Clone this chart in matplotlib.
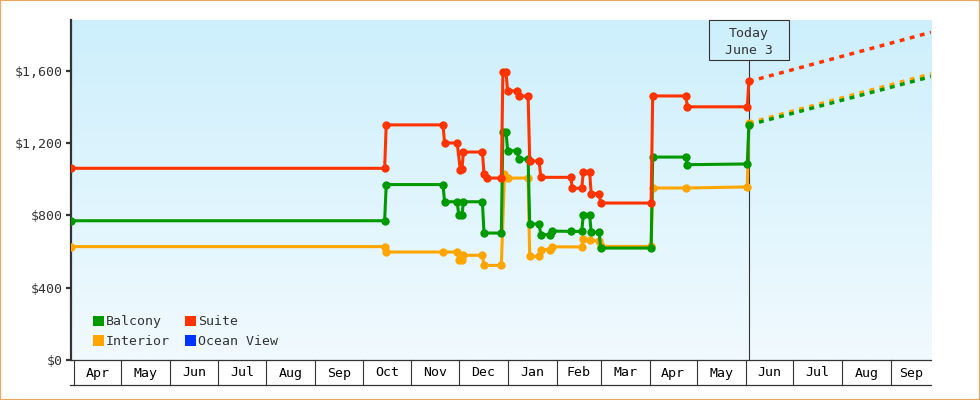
import matplotlib
matplotlib.use("Agg")
import matplotlib.pyplot as plt
import matplotlib.dates as mdates
import numpy as np
import pandas as pd
from matplotlib.patches import Rectangle, Patch
from matplotlib.lines import Line2D
from matplotlib.colors import LinearSegmentedColormap

plt.rcParams['font.family'] = ['DejaVu Sans Mono', 'DejaVu Sans']

# ---------------- data ----------------
legend_names = ["Balcony", "Interior", "Suite", "Ocean View"]
legend_colors = ["#009900", "#ffa500", "#ff3300", "#0033ff"]

balcony_dates = ["2022-03-30", "2022-10-15", "2022-10-16", "2022-11-21", "2022-11-22",
                 "2022-11-30", "2022-12-01", "2022-12-03", "2022-12-04", "2022-12-16",
                 "2022-12-17", "2022-12-28", "2022-12-29", "2022-12-31", "2023-01-01",
                 "2023-01-07", "2023-01-08", "2023-01-14", "2023-01-15", "2023-01-21",
                 "2023-01-22", "2023-01-28", "2023-01-29", "2023-02-10", "2023-02-17",
                 "2023-02-18", "2023-02-22", "2023-02-23", "2023-02-28", "2023-03-01",
                 "2023-04-02", "2023-04-03", "2023-04-24", "2023-04-25", "2023-06-02",
                 "2023-06-03"]
balcony_prices = [770, 770, 970, 970, 875,
                  875, 800, 800, 875, 875,
                  702, 702, 1260, 1260, 1157,
                  1157, 1111, 1111, 752, 752,
                  693, 693, 713, 711, 711,
                  804, 804, 706, 706, 619,
                  619, 1122, 1122, 1080, 1084,
                  1300]

interior_dates = ["2022-03-30", "2022-10-15", "2022-10-16", "2022-11-21", "2022-11-30",
                  "2022-12-01", "2022-12-03", "2022-12-04", "2022-12-16", "2022-12-17",
                  "2022-12-28", "2022-12-30", "2023-01-01", "2023-01-14", "2023-01-15",
                  "2023-01-21", "2023-01-22", "2023-01-28", "2023-01-29", "2023-02-17",
                  "2023-02-18", "2023-02-22", "2023-02-28", "2023-03-01", "2023-04-02",
                  "2023-04-03", "2023-04-24", "2023-06-02", "2023-06-03"]
interior_prices = [627, 627, 597, 597, 597,
                   555, 555, 579, 579, 523,
                   523, 1030, 1006, 1006, 573,
                   573, 610, 610, 626, 625,
                   669, 665, 656, 628, 628,
                   951, 951, 957, 1311]

suite_dates = ["2022-03-30", "2022-10-15", "2022-10-16", "2022-11-21", "2022-11-22",
               "2022-11-30", "2022-12-02", "2022-12-03", "2022-12-04", "2022-12-16",
               "2022-12-17", "2022-12-19", "2022-12-28", "2022-12-29", "2022-12-31",
               "2023-01-01", "2023-01-07", "2023-01-08", "2023-01-14", "2023-01-15",
               "2023-01-21", "2023-01-22", "2023-02-10", "2023-02-11", "2023-02-17",
               "2023-02-18", "2023-02-22", "2023-02-23", "2023-02-28", "2023-03-01",
               "2023-04-02", "2023-04-03", "2023-04-24", "2023-04-25", "2023-06-02",
               "2023-06-03"]
suite_prices = [1060, 1060, 1300, 1300, 1200,
                1200, 1050, 1055, 1150, 1150,
                1030, 1006, 1006, 1590, 1590,
                1485, 1490, 1460, 1460, 1100,
                1100, 1010, 1010, 950, 950,
                1040, 1040, 920, 920, 868,
                868, 1460, 1460, 1400, 1400,
                1540]

forecast_dates = ["2023-06-03 00:00", "2023-09-26 12:00"]
balcony_forecast = [1300, 1567]
interior_forecast = [1311, 1582]
suite_forecast = [1540, 1812]

today = "2023-06-03"
today_label = ["Today", "June 3"]
x_start = "2022-03-30 02:00"
x_end = "2023-09-26 12:00"
y_ticks = [0, 400, 800, 1200, 1600]
y_max = 1880
month_starts = pd.date_range("2022-04-01", "2023-09-01", freq="MS")

# ---------------- figure ----------------
W, H = 980, 400
fig = plt.figure(figsize=(W / 100, H / 100), dpi=100)
ax_l, ax_b, ax_w, ax_h = 71, 40, 860, 340
ax = fig.add_axes([ax_l / W, ax_b / H, ax_w / W, ax_h / H])

fs = 9.5
dark = "#333333"

# background gradient
cmap = LinearSegmentedColormap.from_list("bg", ["#cdeffc", "#f1fafe"])
ax.imshow(np.linspace(0, 1, 256).reshape(-1, 1), cmap=cmap, aspect="auto",
          extent=[0, 1, 0, 1], transform=ax.transAxes, zorder=0, origin="upper")

x0 = pd.Timestamp(x_start)
x1 = pd.Timestamp(x_end)
tday = pd.Timestamp(today)

# today line
ax.plot([tday, tday], [0, 1 - 40 / ax_h], transform=ax.get_xaxis_transform(),
        color=dark, lw=0.8, zorder=2)

series = [
    (interior_dates, interior_prices, interior_forecast, "#ffa500"),
    (balcony_dates, balcony_prices, balcony_forecast, "#009900"),
    (suite_dates, suite_prices, suite_forecast, "#ff3300"),
]
for dts, vals, fc, col in series:
    ax.plot(pd.to_datetime(forecast_dates), fc, color=col, lw=2.5,
            linestyle=(0, (1.4, 1.6)), dash_capstyle="butt", zorder=3)
for dts, vals, fc, col in series:
    ax.plot(pd.to_datetime(dts), vals, color=col, lw=2.2, marker="o", ms=6,
            markeredgewidth=0, zorder=4)

ax.set_xlim(x0, x1)
ax.set_ylim(0, y_max)

# spines
for s in ["top", "right"]:
    ax.spines[s].set_visible(False)
ax.spines["left"].set_linewidth(1.6)
ax.spines["left"].set_color(dark)
ax.spines["bottom"].set_linewidth(0.9)
ax.spines["bottom"].set_color(dark)

ax.set_yticks(y_ticks)
ax.set_yticklabels([f"${v:,}" for v in y_ticks])
ax.tick_params(axis="y", length=3.6, width=1.6, color=dark, labelsize=fs,
               labelcolor=dark, pad=2.2)
ax.set_xticks([])

# month boxes below axis
xt = ax.get_xaxis_transform()
box_h = 25 / ax_h
for m in month_starts:
    ax.add_line(Line2D([m, m], [0, -box_h], transform=xt, color=dark, lw=0.8,
                       clip_on=False))
ax.add_line(Line2D([-1.5 / ax_w, 1], [-box_h, -box_h], transform=ax.transAxes,
                   color=dark, lw=0.9, clip_on=False))
edges = list(month_starts) + [x1]
for a, b in zip(edges[:-1], edges[1:]):
    c = a + (b - a) / 2
    ax.text(c, -16.5 / ax_h, a.strftime("%b"), transform=xt, ha="center",
            va="baseline", fontsize=fs, color="black", clip_on=False)

# today box
xn0, xn1 = mdates.date2num(x0), mdates.date2num(x1)
tx = (mdates.date2num(tday) - xn0) / (xn1 - xn0)
ax.add_patch(Rectangle((tx - 40 / ax_w, 1 - 40 / ax_h), 80 / ax_w, 40 / ax_h,
                       transform=ax.transAxes, fill=False, ec=dark, lw=0.8,
                       clip_on=False, zorder=5))
ax.text(tx, 1 - 16.7 / ax_h, today_label[0], transform=ax.transAxes, ha="center",
        va="baseline", fontsize=fs, color=dark, zorder=6)
ax.text(tx, 1 - 34.3 / ax_h, today_label[1], transform=ax.transAxes, ha="center",
        va="baseline", fontsize=fs, color=dark, zorder=6)

# legend
handles = [Patch(facecolor=c, edgecolor="none") for c in legend_colors]
leg = ax.legend(handles, legend_names, ncol=2, loc="lower left",
                bbox_to_anchor=(22 / ax_w, 12 / ax_h), frameon=False,
                handlelength=0.85, handleheight=0.85, handletextpad=0.15,
                columnspacing=1.1, labelspacing=0.5, borderpad=0,
                borderaxespad=0, fontsize=fs)
for t in leg.get_texts():
    t.set_color(dark)

# figure border
fig.add_artist(Rectangle((0, 0), 1, 1, transform=fig.transFigure, fill=False,
                         ec="#e8a95f", lw=1.6))

fig.savefig("out.png", dpi=100)
